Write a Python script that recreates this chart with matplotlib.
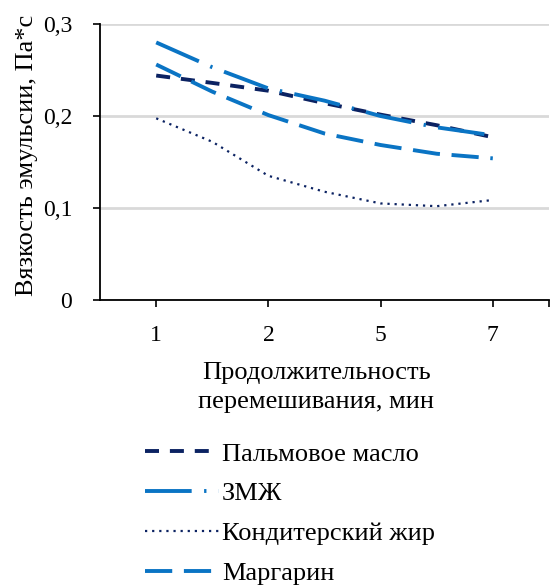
import matplotlib
matplotlib.use("Agg")
import matplotlib.pyplot as plt

plt.rcParams['font.family'] = ['Liberation Serif', 'DejaVu Serif']

categories = ["1", "2", "5", "7"]
# values read at half-category steps (positions 0, 0.5, ..., 3)
x_read = [0, 0.5, 1, 1.5, 2, 2.5, 3]
palm = [0.244, 0.236, 0.2275, 0.214, 0.2015, 0.190, 0.177]
zmzh = [0.280, 0.253, 0.230, 0.2167, 0.200, 0.1877, 0.179]
conf = [0.1975, 0.172, 0.135, 0.1177, 0.105, 0.102, 0.1087]
marg = [0.256, 0.2265, 0.201, 0.181, 0.1685, 0.159, 0.154]
labels = ["Пальмовое масло", "ЗМЖ", "Кондитерский жир", "Маргарин"]
yticks = [0, 0.1, 0.2, 0.3]
ytick_labels = ["0", "0,1", "0,2", "0,3"]

navy = "#0B2262"
blue = "#0A74C4"

fig = plt.figure(figsize=(5.5, 5.86), dpi=100)
ax = fig.add_axes([0.182, 0.488, 0.816, 0.471])

lw = 2.8
l1, = ax.plot(x_read, palm, color=navy, lw=lw, dashes=(3.6, 2.8))
l2, = ax.plot(x_read, zmzh, color=blue, lw=lw, dashes=(12, 3.2, 0.6, 3.2))
l3, = ax.plot(x_read, conf, color=navy, lw=1.6, dashes=(1, 2.2))
l4, = ax.plot(x_read, marg, color=blue, lw=lw, dashes=(7, 3))

ax.set_xlim(-0.5, 3.5)
ax.set_ylim(0, 0.3)
ax.set_xticks([0, 1, 2, 3, 3.5])
ax.set_xticklabels(categories + [""])
ax.set_yticks(yticks)
ax.set_yticklabels(ytick_labels)
ax.tick_params(axis='both', labelsize=17, length=5, width=1.2, direction='out')
ax.tick_params(axis='x', pad=13)
ax.tick_params(axis='y', pad=15)
ax.grid(axis='y', color='#D9D9D9', lw=2)
ax.set_axisbelow(True)
for s in ['top', 'right']:
    ax.spines[s].set_visible(False)
for s in ['left', 'bottom']:
    ax.spines[s].set_linewidth(1.3)
    ax.spines[s].set_color('black')

fig.text(0.05, 0.735, "Вязкость эмульсии, Па*с", fontsize=19, rotation=90,
         ha='center', va='center')
fig.text(0.575, 0.339, "Продолжительность\nперемешивания, мин", fontsize=19,
         ha='center', va='center', linespacing=1.42)

fig.legend([l1, l2, l3, l4], labels, loc='upper left', bbox_to_anchor=(0.23, 0.277),
           frameon=False, fontsize=19, handlelength=2.8, handletextpad=0.12,
           labelspacing=0.62, borderpad=0.2)

fig.savefig("out.png", dpi=100)
